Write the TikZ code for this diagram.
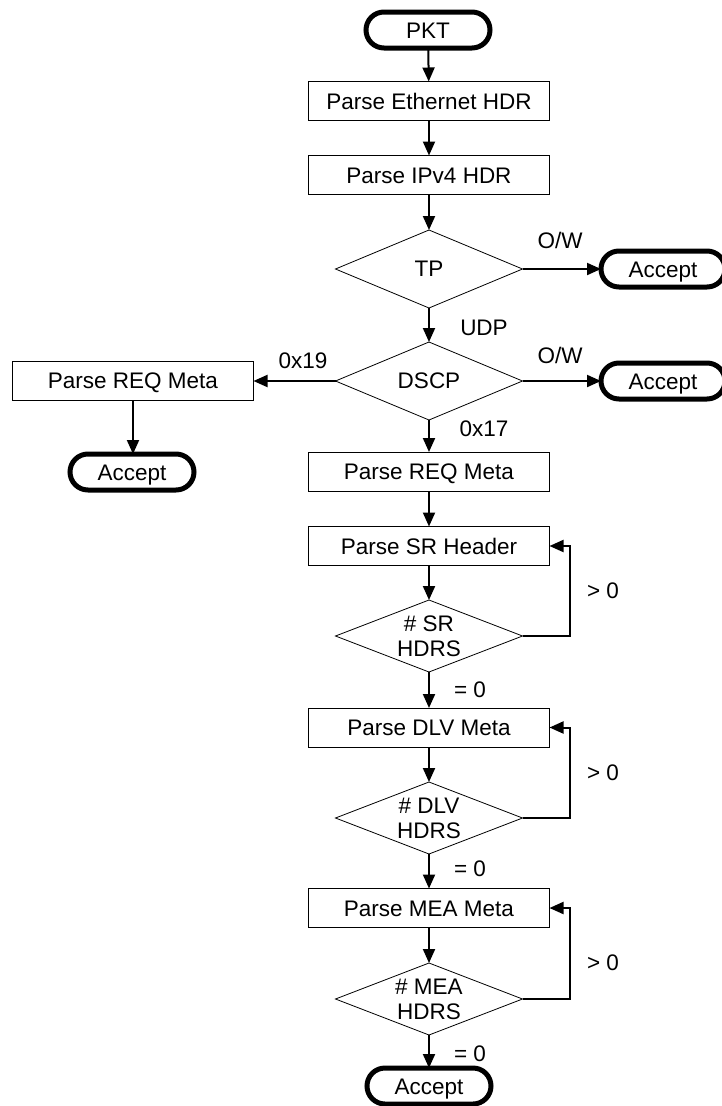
\documentclass[tikz,border=0pt]{standalone}
\usepackage{fontspec}
\setmainfont{Liberation Sans}
\usetikzlibrary{shapes.geometric,arrows.meta}
\begin{document}
\begin{tikzpicture}[x=1pt,y=-1pt,
  font=\fontsize{22.5}{25}\selectfont,
  every node/.style={inner sep=0pt,outer sep=0pt},
  procbox/.style={draw,line width=1pt,minimum width=241pt,minimum height=39pt,
    text height=16pt,text depth=0pt},
  term/.style={draw,line width=5pt,rounded corners=18pt,minimum width=124pt,
    minimum height=36pt,text height=16pt,text depth=0pt},
  decide/.style={draw,diamond,line width=0.8pt,minimum width=187pt},
  tall/.style={minimum height=78pt},
  short/.style={minimum height=72pt},
  flow/.style={line width=2pt,-{Triangle[length=14pt,width=12pt]}},
  tag/.style={text height=16pt,text depth=0pt},
  dlabel/.style={label={[align=center,font=\fontsize{22.5}{25}\selectfont]center:#1}}
]
\useasboundingbox (0,0) rectangle (721,1106);

% main column
\node[term]    (pkt)  at (428,30)    {PKT};
\node[procbox] (eth)  at (429,101)   {Parse Ethernet HDR};
\node[procbox] (ipv4) at (429,175)   {Parse IPv4 HDR};
\node[decide,tall,dlabel={TP}]   (tp)   at (429,269) {};
\node[term]    (acc1) at (663,269)   {Accept};
\node[decide,tall,dlabel={DSCP}] (dscp) at (429,381) {};
\node[term]    (acc2) at (663,381)   {Accept};
\node[procbox] (reqL) at (133,380.5) {Parse REQ Meta};
\node[term]    (accL) at (132,472)   {Accept};
\node[procbox] (req)  at (429,471.5) {Parse REQ Meta};
\node[procbox] (sr)   at (429,546)   {Parse SR Header};
\node[decide,short,dlabel={\# SR\\HDRS}]   (srd)  at (429,636) {};
\node[procbox] (dlv)  at (429,727.5) {Parse DLV Meta};
\node[decide,short,dlabel={\# DLV\\HDRS}]  (dlvd) at (429,818) {};
\node[procbox] (mea)  at (429,908)   {Parse MEA Meta};
\node[decide,short,dlabel={\# MEA\\HDRS}]  (mead) at (429,999) {};
\node[term]    (accE) at (429,1086)  {Accept};

% x position of the loop-back lines
\coordinate (lx) at (570,0);

% straight flow
\draw[flow] (pkt) -- (eth);
\draw[flow] (eth) -- (ipv4);
\draw[flow] (ipv4) -- (tp);
\draw[flow] (tp.east) -- (acc1);
\draw[flow] (tp) -- (dscp);
\draw[flow] (dscp.east) -- (acc2);
\draw[flow] (dscp.west) -- (dscp.west -| reqL.east);
\draw[flow] (reqL) -- (reqL |- accL.north);
\draw[flow] (dscp) -- (req);
\draw[flow] (req) -- (sr);
\draw[flow] (sr) -- (srd);
\draw[flow] (srd) -- (dlv);
\draw[flow] (dlv) -- (dlvd);
\draw[flow] (dlvd) -- (mea);
\draw[flow] (mea) -- (mead);
\draw[flow] (mead) -- (accE);

% loops back while headers remain
\draw[flow] (srd.east) -- (srd.east -| lx) |- (sr.east);
\draw[flow] (dlvd.east) -- (dlvd.east -| lx) |- (dlv.east);
\draw[flow] (mead.east) -- (mead.east -| lx) |- (mea.east);

% branch labels
\node[tag] (ow1)  at (560,240) {O/W};
\node[tag] (udp)  at (484,327) {UDP};
\node[tag] (ow2)  at (560,355) {O/W};
\node[tag] (x19)  at (303,360) {0x19};
\node[tag] (x17)  at (484,428) {0x17};
\node[tag] (gt1)  at (603,590) {> 0};
\node[tag] (eq1)  at (470,689) {= 0};
\node[tag] (gt2)  at (603,772) {> 0};
\node[tag] (eq2)  at (470,868) {= 0};
\node[tag] (gt3)  at (603,962) {> 0};
\node[tag] (eq3)  at (470,1053) {= 0};
\end{tikzpicture}
\end{document}
